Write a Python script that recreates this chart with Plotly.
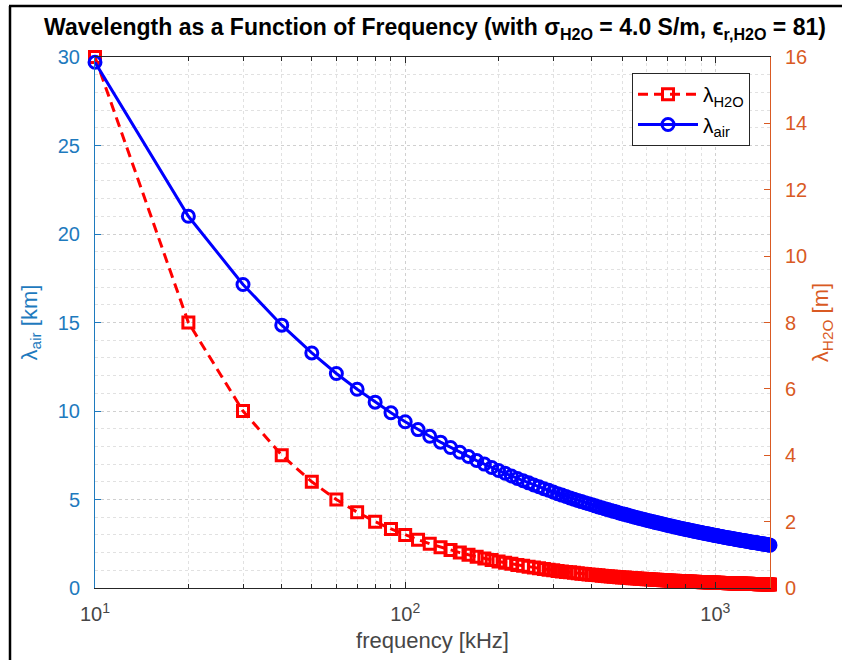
import plotly.graph_objects as go

# Frequency grid [kHz]
freq_khz = [
    10, 20, 30, 40, 50, 60, 70, 80, 90, 100,
    110, 120, 130, 140, 150, 160, 170, 180, 190, 200,
    210, 220, 230, 240, 250, 260, 270, 280, 290, 300,
    310, 320, 330, 340, 350, 360, 370, 380, 390, 400,
    410, 420, 430, 440, 450, 460, 470, 480, 490, 500,
    510, 520, 530, 540, 550, 560, 570, 580, 590, 600,
    610, 620, 630, 640, 650, 660, 670, 680, 690, 700,
    710, 720, 730, 740, 750, 760, 770, 780, 790, 800,
    810, 820, 830, 840, 850, 860, 870, 880, 890, 900,
    910, 920, 930, 940, 950, 960, 970, 980, 990, 1000,
    1010, 1020, 1030, 1040, 1050, 1060, 1070, 1080, 1090, 1100,
    1110, 1120, 1130, 1140, 1150, 1160, 1170, 1180, 1190, 1200,
    1210, 1220, 1230, 1240, 1250, 1260, 1270, 1280, 1290, 1300,
    1310, 1320, 1330, 1340, 1350, 1360, 1370, 1380, 1390, 1400,
    1410, 1420, 1430, 1440, 1450, 1460, 1470, 1480, 1490, 1500,
]

# Wavelength in air [km]
lambda_air_km = [
    29.70, 21.00, 17.15, 14.85, 13.28, 12.12, 11.23, 10.50, 9.90, 9.39,
    8.95, 8.57, 8.24, 7.94, 7.67, 7.43, 7.20, 7.00, 6.81, 6.64,
    6.48, 6.33, 6.19, 6.06, 5.94, 5.82, 5.72, 5.61, 5.52, 5.42,
    5.33, 5.25, 5.17, 5.09, 5.02, 4.95, 4.88, 4.82, 4.76, 4.70,
    4.64, 4.58, 4.53, 4.48, 4.43, 4.38, 4.33, 4.29, 4.24, 4.20,
    4.16, 4.12, 4.08, 4.04, 4.00, 3.97, 3.93, 3.90, 3.87, 3.83,
    3.80, 3.77, 3.74, 3.71, 3.68, 3.66, 3.63, 3.60, 3.58, 3.55,
    3.52, 3.50, 3.48, 3.45, 3.43, 3.41, 3.38, 3.36, 3.34, 3.32,
    3.30, 3.28, 3.26, 3.24, 3.22, 3.20, 3.18, 3.17, 3.15, 3.13,
    3.11, 3.10, 3.08, 3.06, 3.05, 3.03, 3.02, 3.00, 2.98, 2.97,
    2.96, 2.94, 2.93, 2.91, 2.90, 2.88, 2.87, 2.86, 2.84, 2.83,
    2.82, 2.81, 2.79, 2.78, 2.77, 2.76, 2.75, 2.73, 2.72, 2.71,
    2.70, 2.69, 2.68, 2.67, 2.66, 2.65, 2.64, 2.63, 2.61, 2.60,
    2.59, 2.59, 2.58, 2.57, 2.56, 2.55, 2.54, 2.53, 2.52, 2.51,
    2.50, 2.49, 2.48, 2.48, 2.47, 2.46, 2.45, 2.44, 2.43, 2.42,
]

# Wavelength in water [m]
lambda_h2o_m = [
    16.000, 8.000, 5.333, 4.000, 3.200, 2.667, 2.286, 2.000, 1.778, 1.600,
    1.455, 1.333, 1.231, 1.143, 1.067, 1.000, 0.941, 0.889, 0.842, 0.800,
    0.762, 0.727, 0.696, 0.667, 0.640, 0.615, 0.593, 0.571, 0.552, 0.533,
    0.516, 0.500, 0.485, 0.471, 0.457, 0.444, 0.432, 0.421, 0.410, 0.400,
    0.390, 0.381, 0.372, 0.364, 0.356, 0.348, 0.340, 0.333, 0.327, 0.320,
    0.314, 0.308, 0.302, 0.296, 0.291, 0.286, 0.281, 0.276, 0.271, 0.267,
    0.262, 0.258, 0.254, 0.250, 0.246, 0.242, 0.239, 0.235, 0.232, 0.229,
    0.225, 0.222, 0.219, 0.216, 0.213, 0.211, 0.208, 0.205, 0.203, 0.200,
    0.198, 0.195, 0.193, 0.190, 0.188, 0.186, 0.184, 0.182, 0.180, 0.178,
    0.176, 0.174, 0.172, 0.170, 0.168, 0.167, 0.165, 0.163, 0.162, 0.160,
    0.158, 0.157, 0.155, 0.154, 0.152, 0.151, 0.150, 0.148, 0.147, 0.145,
    0.144, 0.143, 0.142, 0.140, 0.139, 0.138, 0.137, 0.136, 0.134, 0.133,
    0.132, 0.131, 0.130, 0.129, 0.128, 0.127, 0.126, 0.125, 0.124, 0.123,
    0.122, 0.121, 0.120, 0.119, 0.119, 0.118, 0.117, 0.116, 0.115, 0.114,
    0.113, 0.113, 0.112, 0.111, 0.110, 0.110, 0.109, 0.108, 0.107, 0.107,
]

x_tick_vals = [10, 100, 1000]
x_tick_text = ["10<sup>1</sup>", "10<sup>2</sup>", "10<sup>3</sup>"]
air_ticks = [0, 5, 10, 15, 20, 25, 30]
h2o_ticks = [0, 2, 4, 6, 8, 10, 12, 14, 16]

FONT = "Liberation Sans, Arial, Helvetica, sans-serif"
LEFT_COLOR = "rgb(30,122,190)"
RIGHT_COLOR = "rgb(217,90,35)"
AX_GRAY = "rgb(38,38,38)"
LABEL_GRAY = "rgb(70,70,70)"
GRID = "rgb(208,208,208)"
GRID_MINOR = "rgb(225,225,225)"

W, H = 842, 660
ML, MR, MT, MB = 95, 72, 57, 72
PW, PH = W - ML - MR, H - MT - MB


def px_x(p):
    return (p - ML) / PW


def px_y(p):
    return (H - MB - p) / PH


fig = go.Figure()

fig.add_trace(go.Scatter(
    x=freq_khz, y=lambda_h2o_m, name="λ<sub>H2O</sub>",
    mode="lines+markers", yaxis="y", cliponaxis=False,
    line=dict(color="rgb(255,0,0)", width=3, dash="10px,6px"),
    marker=dict(symbol="square-open", size=11, color="rgb(255,0,0)",
                line=dict(width=3, color="rgb(255,0,0)")),
))

fig.add_trace(go.Scatter(
    x=freq_khz, y=lambda_air_km, name="λ<sub>air</sub>",
    mode="lines+markers", yaxis="y2", cliponaxis=False,
    line=dict(color="rgb(0,0,255)", width=3),
    marker=dict(symbol="circle-open", size=12, color="rgb(0,0,255)",
                line=dict(width=3, color="rgb(0,0,255)")),
))

fig.update_layout(
    width=W, height=H,
    margin=dict(l=ML, r=MR, t=MT, b=MB),
    paper_bgcolor="white", plot_bgcolor="white",
    font=dict(family=FONT, size=20, color=AX_GRAY),
    title=dict(
        text="<b>Wavelength as a Function of Frequency (with σ<sub>H2O</sub> = 4.0 S/m, "
             "ϵ<sub>r,H2O</sub> = 81)</b>",
        x=px_x(435), xref="paper", xanchor="center",
        y=1 - 27 / H, yanchor="middle",
        font=dict(family=FONT, size=23, color="black"),
    ),
    xaxis=dict(
        type="log", range=[1, 3.1761],
        tickvals=x_tick_vals, ticktext=x_tick_text,
        ticks="inside", ticklen=6, tickcolor=AX_GRAY,
        showline=True, linecolor=AX_GRAY, linewidth=1, mirror="ticks",
        showgrid=True, gridcolor=GRID, griddash="dot", gridwidth=1,
        minor=dict(dtick="D1", ticks="inside", ticklen=4, tickcolor=AX_GRAY,
                   showgrid=True, gridcolor=GRID_MINOR, griddash="dot"),
        ticklabelstandoff=8,
        tickfont=dict(size=20, color=LABEL_GRAY),
        title=dict(text="frequency [kHz]", font=dict(size=22, color=LABEL_GRAY), standoff=8),
        zeroline=False,
    ),
    yaxis=dict(
        side="right", range=[0, 16], tickvals=h2o_ticks,
        ticks="inside", ticklen=6, tickcolor=RIGHT_COLOR,
        showline=True, linecolor=RIGHT_COLOR, linewidth=1,
        showgrid=False, zeroline=False,
        ticklabelstandoff=10,
        tickfont=dict(size=20, color=RIGHT_COLOR),
        title=dict(text="λ<sub>H2O</sub> [m]", font=dict(size=22, color=RIGHT_COLOR), standoff=6),
    ),
    yaxis2=dict(
        side="left", overlaying="y", range=[0, 30], tickvals=air_ticks,
        ticks="inside", ticklen=6, tickcolor=LEFT_COLOR,
        showline=True, linecolor=LEFT_COLOR, linewidth=1,
        showgrid=True, gridcolor=GRID, griddash="dot", gridwidth=1,
        minor=dict(dtick=1, showgrid=True, gridcolor=GRID_MINOR, griddash="dot"),
        zeroline=False,
        ticklabelstandoff=10,
        tickfont=dict(size=20, color=LEFT_COLOR),
        title=dict(text="λ<sub>air</sub> [km]", font=dict(size=22, color=LEFT_COLOR), standoff=14),
    ),
    legend=dict(
        x=px_x(632), y=px_y(73), xanchor="left", yanchor="top",
        bgcolor="white", bordercolor=AX_GRAY, borderwidth=1,
        font=dict(size=21, color="black"),
        itemwidth=60,
    ),
    showlegend=True,
)

# outer frame (left and top edges)
fig.add_shape(type="line", xref="paper", yref="paper",
              x0=px_x(10), x1=px_x(10), y0=px_y(6), y1=px_y(H + 5),
              line=dict(color="black", width=2.5))
fig.add_shape(type="line", xref="paper", yref="paper",
              x0=px_x(9), x1=px_x(W + 5), y0=px_y(6), y1=px_y(6),
              line=dict(color="black", width=2.5))

fig.write_html("out.html")
